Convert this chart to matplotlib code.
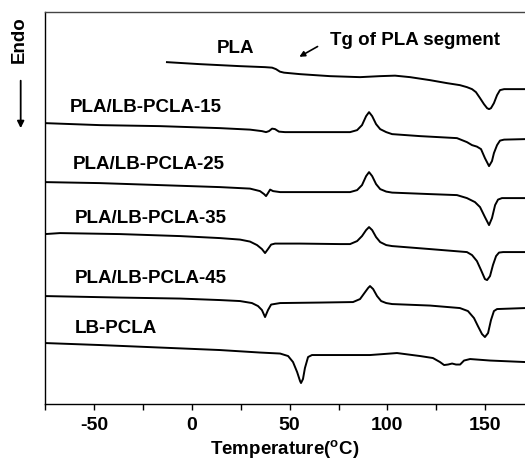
import matplotlib
matplotlib.use('Agg')
import matplotlib.pyplot as plt
from matplotlib.ticker import MultipleLocator

plt.rcParams['font.family'] = ['Liberation Sans', 'DejaVu Sans']
plt.rcParams['font.weight'] = 'bold'
plt.rcParams['axes.unicode_minus'] = False
plt.rcParams['mathtext.fontset'] = 'custom'
plt.rcParams['mathtext.rm'] = 'Liberation Sans:bold'
plt.rcParams['mathtext.it'] = 'Liberation Sans:bold'
plt.rcParams['mathtext.bf'] = 'Liberation Sans:bold'

# DSC heating traces, temperature (deg C) vs heat flow (a.u., curves offset)
pla_t = [-12.8, 4.1, 24.6, 37.4, 41.0, 43.0, 45.0, 47.1, 55.3, 70.6, 86.0,
         96.2, 103.9, 111.6, 121.8, 130.5, 137.1, 140.7, 143.3, 145.3, 147.4,
         149.4, 151.0, 152.0, 153.0, 154.5, 156.1, 157.6, 159.7, 170.4]
pla_hf = [34.2, 34.0, 33.8, 33.7, 33.65, 33.5, 33.25, 33.15, 33.0, 32.8, 32.7,
          32.8, 32.85, 32.7, 32.4, 32.1, 31.9, 31.7, 31.5, 31.2, 30.6,
          30.0, 29.6, 29.5, 29.6, 30.1, 30.9, 31.4, 31.5, 31.5]

b15_t = [-75.2, -47.1, -16.4, 14.3, 29.7, 35.8, 37.9, 39.4, 41.0, 42.5, 44.5,
         47.6, 65.5, 80.9, 84.5, 87.0, 89.1, 90.6, 92.2, 94.2, 96.3, 99.4,
         102.4, 116.7, 135.6, 140.7, 143.3, 145.8, 147.9, 149.9, 152.0, 153.5,
         154.5, 156.1, 157.6, 159.7, 170.4]
b15_hf = [28.1, 27.9, 27.8, 27.6, 27.45, 27.3, 27.2, 27.3, 27.55, 27.5, 27.25,
          27.2, 27.2, 27.2, 27.4, 27.9, 28.8, 29.2, 28.8, 28.0, 27.5, 27.2,
          27.0, 26.8, 26.6, 26.2, 25.9, 25.75, 25.5, 24.6, 23.8, 24.3,
          25.1, 25.9, 26.35, 26.45, 26.5]

b25_t = [-75.2, -47.1, -16.4, 14.3, 29.7, 34.8, 36.9, 37.9, 38.9, 40.0, 41.5,
         45.1, 65.5, 80.9, 84.5, 87.0, 89.1, 90.6, 92.2, 94.2, 96.3, 99.4,
         102.4, 121.8, 135.6, 140.7, 144.8, 147.4, 149.9, 152.0, 153.5, 155.1,
         156.6, 158.6, 170.4]
b25_hf = [22.2, 22.1, 21.9, 21.7, 21.55, 21.3, 21.0, 20.8, 21.1, 21.45, 21.3,
          21.2, 21.2, 21.2, 21.4, 21.9, 22.8, 23.2, 22.8, 22.0, 21.5, 21.25,
          21.15, 21.0, 20.9, 20.6, 20.2, 19.7, 18.7, 17.9, 18.6, 19.9,
          20.45, 20.6, 20.6]

b35_t = [-75.2, -67.5, -36.8, -6.1, 14.3, 24.6, 29.7, 33.3, 35.8, 37.4, 38.9,
         40.5, 42.5, 55.3, 75.7, 80.9, 84.5, 87.0, 89.1, 90.6, 92.2, 94.2,
         96.3, 99.4, 102.4, 121.8, 140.7, 143.3, 145.8, 147.9, 149.9, 151.0,
         152.5, 154.0, 155.6, 157.1, 159.2, 170.4]
b35_hf = [17.0, 17.1, 17.0, 16.8, 16.6, 16.45, 16.25, 15.9, 15.5, 15.1, 15.5,
          15.95, 16.05, 16.05, 16.0, 16.0, 16.3, 16.8, 17.4, 17.7, 17.4, 16.7,
          16.2, 15.9, 15.8, 15.5, 15.2, 14.9, 14.3, 13.4, 12.5, 12.4,
          12.8, 13.9, 14.8, 15.15, 15.2, 15.2]

b45_t = [-75.2, -36.8, -6.1, 14.3, 24.6, 30.7, 33.8, 35.8, 37.4, 38.9, 40.5,
         45.1, 65.5, 82.4, 86.0, 88.6, 90.1, 91.1, 92.7, 94.7, 96.8, 99.4,
         102.4, 121.8, 137.1, 141.2, 144.3, 146.3, 148.4, 149.9, 151.5, 153.0,
         154.5, 156.1, 170.4]
b45_hf = [10.8, 10.65, 10.55, 10.4, 10.3, 10.1, 9.8, 9.4, 8.7, 9.4, 9.95,
          10.1, 10.15, 10.2, 10.5, 11.2, 11.6, 11.8, 11.5, 10.8, 10.3, 10.1,
          10.0, 9.85, 9.6, 9.3, 8.6, 7.8, 7.0, 6.7, 7.1, 8.4,
          9.3, 9.5, 9.6]

lb_t = [-75.2, -47.1, -16.4, 14.3, 34.8, 45.1, 49.2, 51.7, 53.8, 55.3, 55.8,
        56.8, 57.8, 59.4, 61.4, 75.7, 91.1, 104.9, 116.7, 123.3, 126.9, 129.0,
        131.0, 133.1, 135.1, 137.2, 139.2, 142.3, 152.5, 170.4]
lb_hf = [6.1, 5.9, 5.65, 5.4, 5.15, 5.05, 4.8, 4.2, 3.2, 2.3, 2.1,
         2.5, 3.6, 4.7, 4.9, 4.9, 4.9, 5.1, 4.8, 4.6, 4.2, 3.9,
         3.95, 4.05, 3.95, 3.95, 4.35, 4.5, 4.35, 4.2]

curves = [
    ('PLA', pla_t, pla_hf, (12.8, 35.6)),
    ('PLA/LB-PCLA-15', b15_t, b15_hf, (-62.4, 29.7)),
    ('PLA/LB-PCLA-25', b25_t, b25_hf, (-60.9, 24.0)),
    ('PLA/LB-PCLA-35', b35_t, b35_hf, (-59.9, 18.6)),
    ('PLA/LB-PCLA-45', b45_t, b45_hf, (-59.9, 12.6)),
    ('LB-PCLA', lb_t, lb_hf, (-59.9, 7.6)),
]

fig = plt.figure(figsize=(5.25, 4.61), dpi=100)
ax = fig.add_axes([0.0857, 0.1236, 0.9143, 0.850])

for name, t, hf, (lx, ly) in curves:
    ax.plot(t, hf, color='black', linewidth=1.4)
    ax.text(lx, ly, name, fontsize=13.5, fontweight='bold',
            ha='left', va='center')

ax.text(70.6, 36.4, 'Tg of PLA segment', fontsize=13.5, fontweight='bold',
        ha='left', va='center')
ax.annotate('', xy=(53.7, 34.6), xytext=(65.5, 35.9),
            arrowprops=dict(arrowstyle='-|>', color='black', lw=1.2,
                            mutation_scale=8))

ax.set_xlim(-75.2, 170.4)
ax.set_ylim(0, 39.2)
ax.spines['right'].set_visible(False)
for s in ['left', 'bottom', 'top']:
    ax.spines[s].set_linewidth(1.0)
ax.spines['top'].set_color('#444444')

ax.xaxis.set_major_locator(MultipleLocator(50))
ax.xaxis.set_minor_locator(MultipleLocator(25))
ax.tick_params(axis='x', which='both', direction='out', length=4, width=1,
               labelsize=14, pad=5)
ax.tick_params(axis='y', which='both', left=False, labelleft=False)
for lab in ax.get_xticklabels():
    lab.set_fontweight('bold')

ax.set_xlabel(r'Temperature($^{\rm o}$C)', fontsize=13.5, fontweight='bold',
              labelpad=3)

# Endo direction marker
fig.text(0.036, 0.913, 'Endo', rotation=90, fontsize=13.5, fontweight='bold',
         ha='center', va='center')
fig.patches.append(matplotlib.patches.FancyArrowPatch(
    (0.0394, 0.831), (0.0394, 0.716), transform=fig.transFigure,
    arrowstyle='-|>', mutation_scale=10, color='black', lw=1.3))

fig.savefig('out.png', dpi=100)
